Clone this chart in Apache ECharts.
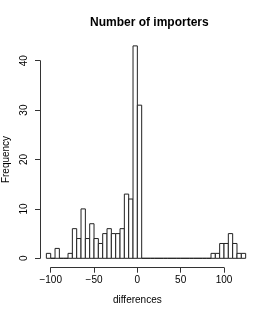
<!DOCTYPE html>
<html>
<head>
<meta charset="utf-8">
<script src="https://cdn.jsdelivr.net/npm/echarts@6/dist/echarts.min.js"></script>
<style>html,body{margin:0;padding:0;background:#fff}#c{width:273px;height:315px}</style>
</head>
<body>
<div id="c"></div>
<script>
const titleText = 'Number of importers';
const xName = 'differences';
const yName = 'Frequency';
const firstBinStart = -105;
const binWidth = 5;
const counts = [1, 0, 2, 0, 0, 1, 6, 4, 10, 4, 7, 4, 3, 5, 6, 5, 5, 6, 13, 12, 43, 31,
  0, 0, 0, 0, 0, 0, 0, 0, 0, 0, 0, 0, 0, 0, 0, 0,
  1, 1, 3, 3, 5, 3, 1, 1];
const xTicks = [-100, -50, 0, 50, 100];
const yTicks = [0, 10, 20, 30, 40];

const data = counts.map((c, i) => [firstBinStart + i * binWidth, firstBinStart + (i + 1) * binWidth, c]);

const chart = echarts.init(document.getElementById('c'), null, {renderer: 'canvas'});
const font = 'Liberation Sans, Arial, Helvetica, sans-serif';
chart.setOption({
  animation: false,
  backgroundColor: '#fff',
  title: {
    text: titleText, left: 85, top: 12,
    textStyle: {fontFamily: font, fontSize: 12, fontWeight: 'bold', color: '#000'}
  },
  grid: {left: 50.7, right: 49, top: 60.7, bottom: 56.7, containLabel: false, outerBoundsMode: 'none'},
  xAxis: {
    type: 'value', min: xTicks[0], max: xTicks[xTicks.length - 1], interval: 50,
    offset: 9.4,
    name: xName, nameLocation: 'middle', nameGap: 28,
    nameTextStyle: {fontFamily: font, fontSize: 10, color: '#000'},
    axisLine: {show: true, onZero: false, lineStyle: {color: '#333', width: 1}},
    axisTick: {show: true, length: 5, lineStyle: {color: '#333'}},
    axisLabel: {fontFamily: font, fontSize: 10, color: '#000', margin: 8,
      formatter: v => String(v).replace('-', '\u2212')},
    splitLine: {show: false}
  },
  yAxis: {
    type: 'value', min: yTicks[0], max: yTicks[yTicks.length - 1], interval: 10,
    offset: 10.7,
    name: yName, nameLocation: 'middle', nameGap: 26, nameRotate: 90,
    nameTextStyle: {fontFamily: font, fontSize: 10, color: '#000'},
    axisLine: {show: true, onZero: false, lineStyle: {color: '#333', width: 1}},
    axisTick: {show: true, length: 5, lineStyle: {color: '#333'}},
    axisLabel: {fontFamily: font, fontSize: 10, color: '#000', margin: 11, rotate: 90},
    splitLine: {show: false}
  },
  series: [{
    type: 'custom',
    clip: false,
    data: data,
    encode: {x: [0, 1], y: 2},
    renderItem: function (params, api) {
      const p0 = api.coord([api.value(0), 0]);
      const p1 = api.coord([api.value(1), api.value(2)]);
      return {
        type: 'rect',
        shape: {x: p0[0], y: p1[1], width: p1[0] - p0[0], height: p0[1] - p1[1]},
        style: {fill: '#fff', stroke: '#222', lineWidth: 1}
      };
    }
  }]
});
</script>
</body>
</html>
